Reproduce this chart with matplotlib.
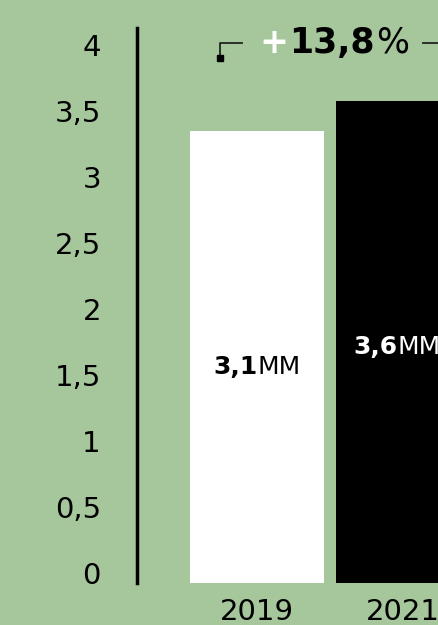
import matplotlib.pyplot as plt
from matplotlib.offsetbox import TextArea, HPacker, AnnotationBbox

years = ["2019", "2021"]
heights = [3.35, 3.58]          # bar tops
bar_text = [("3,1", "MM"), ("3,6", "MM")]
bar_colors = ["white", "black"]
text_colors = ["black", "white"]
yticks = [0, 0.5, 1, 1.5, 2, 2.5, 3, 3.5, 4]
yticklabels = ["0", "0,5", "1", "1,5", "2", "2,5", "3", "3,5", "4"]
growth = ("+", "13,8", "%")

bg = "#a6c79c"
ybot = -0.076

fig = plt.figure(figsize=(4.38, 6.25), dpi=100, facecolor=bg)
ax = fig.add_axes([137/438, 42/625, 301/438, 555/625])
ax.set_facecolor(bg)

x = [0, 1]
ax.bar(x, [h - ybot for h in heights], bottom=ybot, width=0.918, color=bar_colors)

ax.set_xlim(-0.822, 1.240)
ax.set_ylim(ybot, 4.13)
ax.set_yticks(yticks)
ax.set_yticklabels(yticklabels, fontsize=21, color="black")
ax.set_xticks(x)
ax.set_xticklabels(years, fontsize=21, color="black")
ax.tick_params(axis="y", length=0, pad=26)
ax.tick_params(axis="x", length=0, pad=11)
for s in ["top", "right", "bottom"]:
    ax.spines[s].set_visible(False)
ax.spines["left"].set_linewidth(2.5)
ax.spines["left"].set_color("black")

# bar value labels: bold number + regular unit
label_pos = [(0, 1.56, (0.5, 0.5)), (0.658, 1.71, (0.0, 0.5))]
for (num, unit), c, (lx, ly, al) in zip(bar_text, text_colors, label_pos):
    box = HPacker(children=[
        TextArea(num, textprops=dict(fontsize=18, weight="bold", color=c)),
        TextArea(unit, textprops=dict(fontsize=18, color=c))],
        sep=0, pad=0, align="baseline")
    ab = AnnotationBbox(box, (lx, ly), box_alignment=al, frameon=False,
                        annotation_clip=False)
    ax.add_artist(ab)

# growth annotation
box = HPacker(children=[
    TextArea(growth[0], textprops=dict(fontsize=25, weight="heavy", color="white")),
    TextArea(growth[1], textprops=dict(fontsize=25, weight="heavy", color="black")),
    TextArea(growth[2], textprops=dict(fontsize=25, weight="normal", color="black"))],
    sep=1, pad=0, align="baseline")
ab = AnnotationBbox(box, (0.014, 4.02), box_alignment=(0, 0.5), frameon=False,
                    annotation_clip=False)
ax.add_artist(ab)

# bracket lines
ax.plot([-0.253, -0.253, -0.103], [3.90, 4.02, 4.02], color="#222222", lw=1.3,
        clip_on=False)
ax.plot([-0.253], [3.90], marker="s", ms=5, color="black", clip_on=False)
ax.plot([1.137, 1.30], [4.02, 4.02], color="#222222", lw=1.3, clip_on=False)

fig.savefig("out.png", dpi=100, facecolor=bg)
